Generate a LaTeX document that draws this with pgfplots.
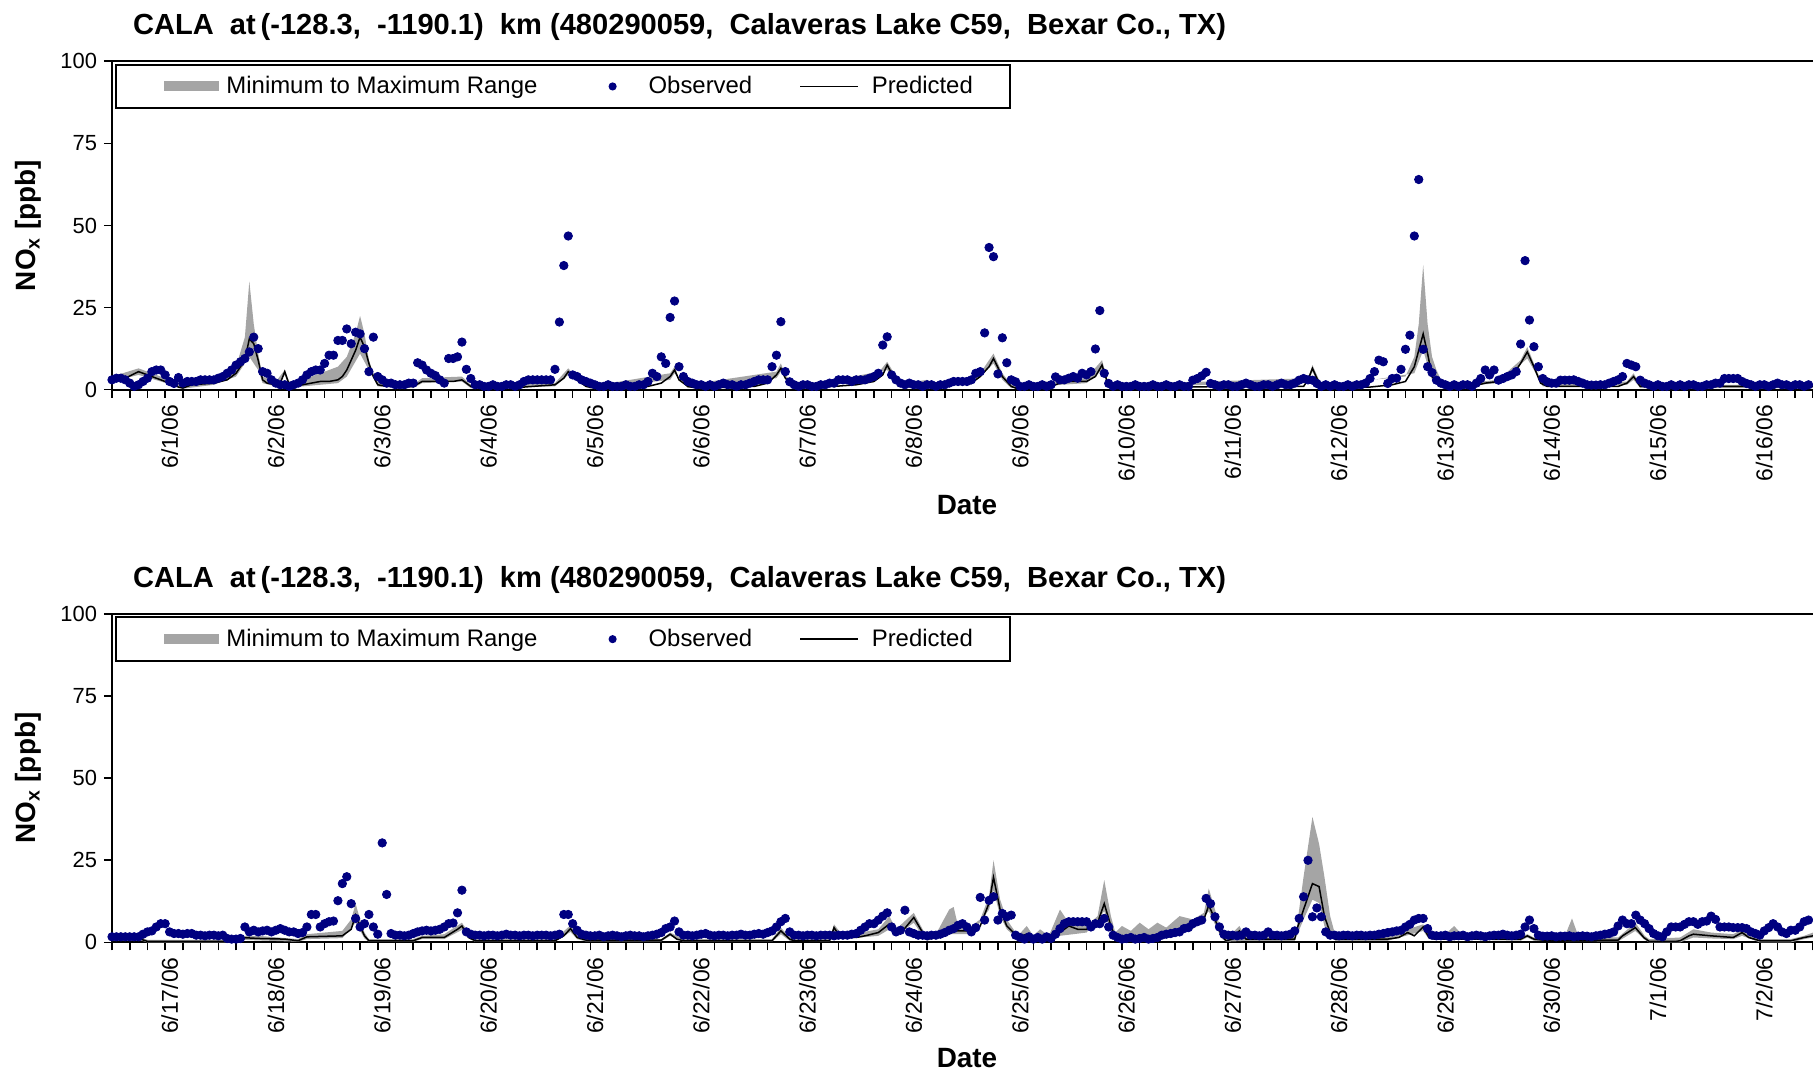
\documentclass[border=0pt]{standalone}
\usepackage{pgfplots}
\pgfplotsset{compat=1.18}
\usepgfplotslibrary{fillbetween}
\usepackage{fontspec}
\setmainfont{Liberation Sans}

\definecolor{navyobs}{RGB}{0,0,128}
\definecolor{bandgray}{RGB}{165,165,165}

\pgfplotsset{
  nox/.style={
    scale only axis, width=860bp, height=164.2bp,
    xmin=-13, xmax=375.3, ymin=0, ymax=100,
    clip=false,
    /pgf/number format/assume math mode=true,
    ytick={0,25,50,75,100},
    xtick={0,24,...,360},
    minor xtick={-13,-9,...,371},
    every major x tick/.append style={draw=none},
    tick align=outside, major tick length=4bp, minor tick length=4bp,
    xtick pos=left, ytick pos=left,
    axis line style={line width=1.1bp},
    every tick/.style={black, line width=0.8bp},
    yticklabel style={font=\fontsize{11}{12}\selectfont},
    xticklabel style={font=\fontsize{11.5}{12}\selectfont, rotate=90, anchor=east},
    title style={font=\bfseries\fontsize{14.6}{16}\selectfont, at={(axis description cs:0,1)}, anchor=west, xshift=7bp, yshift=11bp},
    title={CALA\ \ at\,(-128.3,\ \ -1190.1)\ \ km (480290059,\ \ Calaveras Lake C59,\ \ Bexar Co., TX)},
    ylabel={NO\textsubscript{x} [ppb]},
    ylabel style={font=\bfseries\fontsize{14}{16}\selectfont, at={(axis description cs:-0.0488,0.5)}, anchor=center},
    xlabel={Date},
    xlabel style={font=\bfseries\fontsize{14}{16}\selectfont, at={(axis description cs:0.5,0)}, anchor=center, xshift=-2.5bp, yshift=-57.7bp},
    legend columns=3,
    legend style={at={(axis description cs:0,1)}, anchor=north west, xshift=1.25bp, yshift=-1.2bp,
      draw=black, line width=1bp, inner xsep=15bp, inner ysep=2.8bp,
      nodes={inner xsep=3.5bp, inner ysep=3bp, font=\fontsize{12}{13}\selectfont},
      /tikz/column 2/.style={column sep=23.6bp},
      /tikz/column 4/.style={column sep=20bp}},
  },
  bandleg/.style={legend image code/.code={\path[draw opacity=0, fill opacity=0] (0bp,0bp) -- (8.5bp,0bp); \fill[bandgray, draw opacity=0] (8.5bp,-2.5bp) rectangle (36bp,2.5bp);}},
  obsleg/.style={legend image code/.code={\path[draw opacity=0, fill opacity=0] (0bp,0bp) -- (24bp,0bp); \fill[navyobs] (10bp,0bp) circle (1.5bp);}},
  predleg/.style={legend image code/.code={\path[draw opacity=0] (0bp,0bp) -- (32bp,0bp); \draw[black, line width=0.8bp] (0bp,0bp) -- (29bp,0bp);}},
  obsplot/.style={only marks, mark=*, mark size=2.1bp, navyobs, mark options={draw=navyobs, fill=navyobs}},
  predplot/.style={black, line width=0.75bp},
}

\begin{document}
\begin{tikzpicture}

% ---------------- 6/1 - 6/16 ----------------
\begin{axis}[nox, at={(0,276.35bp)}, anchor=south west,
  xticklabels={6/1/06,6/2/06,6/3/06,6/4/06,6/5/06,6/6/06,6/7/06,6/8/06,6/9/06,6/10/06,6/11/06,6/12/06,6/13/06,6/14/06,6/15/06,6/16/06}]
\addplot[name path=hiA, draw=none, forget plot] coordinates {
(-13,4)(-7,6.5)(-2,4)(3,1.5)(10,3)(15,7)(17,16)(18,33)(19,20)(20,11)(21,4)(24,2.5)(26,6)(27,2.5)(30,3)(34,5)(38,7)(40,10)(42,17)(43,22.5)(44,17)(45,9)(46,5)(47,2.5)(55,1.5)(57,3.5)(66,4)(68,1.5)(87,2)(90,6.5)(92,3.5)(95,1)(113,5)(114,7)(115,3.5)(117,1.5)(137,5.5)(138,8)(139,4.5)(141,1.5)(159,3.5)(162,8.5)(164,4)(166,2)(171,3)(173,1.5)(175,3)(177,2.5)(183,5)(186,11)(188,5)(190,1.5)(207,3.5)(210.5,9)(212,1.5)(257,3.5)(258,7.5)(260,1.5)(279,4)(281,10)(282,20)(283,38)(284,20)(285,10)(286,6)(287,3)(289,1.5)(300,3)(305,9)(306.5,13)(308,8)(309.5,3)(311,1.5)(329,2.5)(330.5,5)(332,1.5)(371,1.5)};
\addplot[name path=loA, draw=none, forget plot] coordinates {
(-13,2.5)(-7,4.5)(-2,2.5)(3,0.3)(10,1.5)(15,4)(18,10)(20,6)(21,2)(24,1)(26,4.5)(27,1)(30,1)(34,1.5)(38,2)(40,4)(43,11)(45,6)(47,1)(55,0.5)(57,2)(66,2.5)(68,0.5)(87,1)(90,4.5)(92,2.5)(95,0.3)(113,3)(114,5)(117,0.5)(137,3.5)(138,5.5)(141,0.5)(162,6)(164,2)(166,0.5)(176,1.5)(181,1.5)(186,8)(188,3)(190,0.5)(207,2)(210.5,6)(212,0.5)(257,2.5)(258,5.5)(260,0.5)(281,5)(283,12)(285,3)(287,0.5)(300,2)(306.5,9.5)(308,6)(310,1)(329,1.5)(330.5,3)(332,0.5)(371,0.5)};
\addplot[bandgray, bandleg] fill between[of=hiA and loA];
\addplot[obsplot, obsleg] coordinates {
(-13,3)(-12,3.5)(-11,3.5)(-10,3)(-9,2)(-8,1)(-7,1.5)(-6,2.5)(-5,3.5)(-4,5.5)(-3,6)(-2,6)
(-1,4.5)(0,2.5)(1,1.9)(2,3.7)(3,2)(4,2.5)(5,2.5)(6,2.5)(7,3)(8,3)(9,3)(10,3)
(11,3.5)(12,4)(13,5)(14,6)(15,7.5)(16,8.5)(17,9.5)(18,11.5)(19,16)(20,12.5)(21,5.5)(22,5)
(23,3)(24,2)(25,1.5)(26,1.5)(27,1)(28,1.5)(29,2)(30,3)(31,4.5)(32,5.5)(33,6)(34,6)
(35,8)(36,10.5)(37,10.5)(38,15)(39,15)(40,18.5)(41,14)(42,17.5)(43,17)(44,12.5)(45,5.5)(46,16)
(47,4)(48,3)(49,2)(50,2)(51,1.5)(52,1.5)(53,1.5)(54,2)(55,2)(56,8.2)(57,7.5)(58,6)
(59,5)(60,4.3)(61,3)(62,2)(63,9.5)(64,9.5)(65,10)(66,14.5)(67,6.2)(68,3.4)(69,1.5)(70,1.5)
(71,1)(72,1)(73,1.5)(74,1)(75,1)(76,1.5)(77,1.5)(78,1)(79,1.5)(80,2.5)(81,3)(82,3)
(83,3)(84,3)(85,3)(86,3)(87,6.2)(88,20.6)(89,37.8)(90,46.8)(91,4.5)(92,4)(93,3)(94,2.5)
(95,2)(96,1.5)(97,1)(98,1)(99,1.5)(100,1)(101,1)(102,1)(103,1.5)(104,1)(105,1)(106,1.5)
(107,1.5)(108,2.5)(109,5)(110,4)(111,10)(112,8)(113,22)(114,27)(115,7)(116,4)(117,2.5)(118,2)
(119,1.5)(120,1.5)(121,1)(122,1.5)(123,1)(124,1.5)(125,2)(126,1.5)(127,1.5)(128,1)(129,1.5)(130,1.5)
(131,2)(132,2.5)(133,3)(134,3)(135,3)(136,7)(137,10.5)(138,20.7)(139,5.5)(140,2.4)(141,1.5)(142,1)
(143,1.5)(144,1.5)(145,1)(146,1)(147,1.5)(148,1.5)(149,2)(150,2)(151,3)(152,3)(153,3)(154,2.5)
(155,3)(156,3)(157,3)(158,3.5)(159,4)(160,5)(161,13.6)(162,16.1)(163,4.5)(164,3)(165,2)(166,1.5)
(167,2)(168,1.5)(169,1.5)(170,1)(171,1.5)(172,1.5)(173,1)(174,1.5)(175,1.5)(176,2)(177,2.5)(178,2.5)
(179,2.5)(180,2.5)(181,3)(182,5)(183,5.5)(184,17.3)(185,43.3)(186,40.5)(187,4.8)(188,15.8)(189,8.2)(190,3)
(191,2.4)(192,1)(193,1)(194,1.5)(195,1)(196,1)(197,1.5)(198,1)(199,1.5)(200,3.9)(201,3)(202,3)
(203,3.5)(204,4)(205,3.5)(206,5)(207,4.5)(208,5.5)(209,12.4)(210,24.1)(211,5)(212,1.9)(213,1)(214,1.5)
(215,1)(216,1)(217,1)(218,1.5)(219,1)(220,1)(221,1)(222,1.5)(223,1)(224,1)(225,1.5)(226,1)
(227,1)(228,1.5)(229,1)(230,1)(231,2.9)(232,3.4)(233,4.2)(234,5.3)(235,1.9)(236,1.5)(237,1)(238,1.5)
(239,1.5)(240,1)(241,1)(242,1.5)(243,2)(244,1.5)(245,1)(246,1)(247,1.5)(248,1.5)(249,1)(250,1.5)
(251,2)(252,1.5)(253,1.5)(254,2)(255,2.9)(256,3.4)(257,3)(258,2.9)(259,1.9)(260,1)(261,1.5)(262,1)
(263,1.5)(264,1)(265,1)(266,1.5)(267,1)(268,1.5)(269,1.5)(270,2)(271,3.4)(272,5.5)(273,9)(274,8.5)
(275,1.9)(276,3.4)(277,3.5)(278,6.2)(279,12.3)(280,16.6)(281,46.8)(282,64)(283,12.3)(284,7)(285,5.2)(286,2.9)
(287,2)(288,1.5)(289,1)(290,1.5)(291,1)(292,1.5)(293,1.5)(294,1)(295,2)(296,3.4)(297,6)(298,4.5)
(299,6)(300,2.9)(301,3.4)(302,4)(303,4.5)(304,5.5)(305,13.9)(306,39.3)(307,21.2)(308,13.1)(309,7)(310,3.4)
(311,2.4)(312,2)(313,2)(314,2.9)(315,2.9)(316,2.9)(317,3)(318,2.5)(319,2)(320,1.5)(321,1.4)(322,1.4)
(323,1.5)(324,1.5)(325,2)(326,2.5)(327,3)(328,4)(329,8)(330,7.5)(331,7)(332,2.9)(333,2)(334,1.5)
(335,1)(336,1.5)(337,1)(338,1)(339,1.5)(340,1)(341,1.5)(342,1)(343,1.5)(344,1.5)(345,1)(346,1)
(347,1.5)(348,1.5)(349,2)(350,2)(351,3.4)(352,3.4)(353,3.4)(354,3.4)(355,2.5)(356,1.9)(357,1.5)(358,1)
(359,1.5)(360,1.5)(361,1)(362,1.5)(363,2)(364,1.5)(365,1.5)(366,1)(367,1.5)(368,1.5)(369,1)(370,1.5)};
\addplot[predplot, predleg] coordinates {
(-13,3)(-10,3.5)(-7,5.5)(-5,4.5)(-2,3)(0,2)(2,0.8)(3,0.5)(5,1.5)(10,2)(13,3)(15,5)(17,9)(18,15.5)(19,14)(20,9)(21,3)(22,2)(24,1.5)(25,2)(26,5.5)(27,1.5)(28,1)(30,1.5)(32,2)(34,2.5)(36,2.5)(38,3)(39,4)(40,6)(41,9)(42,12)(43,16)(44,13)(45,8)(46,4)(47,1.5)(49,1)(55,1)(57,2.5)(64,2.5)(66,3)(68,1)(70,0.5)(80,0.8)(87,1.5)(89,3.5)(90,5.5)(92,3)(94,1)(96,0.5)(108,1)(111,2)(113,4)(114,6)(115,3)(117,1)(119,0.5)(132,1)(135,2)(137,4.5)(138,6.5)(139,3.5)(141,1)(150,1)(155,1.5)(159,2.5)(161,4.5)(162,7.5)(163,5)(165,2)(167,1)(172,1)(173.5,2)(175,2.5)(176,2)(181,2)(183,4)(185,7)(186,9.5)(188,4)(190,1)(191,0.5)(198,0.5)(200,1.5)(202,2.5)(207,2.5)(209,4)(210.5,7.5)(212,1)(214,0.8)(256,1)(257,3)(258,6.5)(259.5,2)(261,0.5)(271,0.8)(276,1.5)(279,2.5)(281,7)(282,12)(283,17)(284,11)(285,4)(287,1)(289,0.5)(294,1)(297,2)(300,2.5)(303,4)(305,8)(306.5,11.5)(308,7)(309.5,2)(311,1)(327,1)(329,2)(330.5,4)(332,1)(371,1)};
\legend{Minimum to Maximum Range, Observed, Predicted}
\end{axis}

% ---------------- 6/17 - 7/2 ----------------
\begin{axis}[nox, at={(0,0)}, anchor=south west,
  xticklabels={6/17/06,6/18/06,6/19/06,6/20/06,6/21/06,6/22/06,6/23/06,6/24/06,6/25/06,6/26/06,6/27/06,6/28/06,6/29/06,6/30/06,7/1/06,7/2/06}]
\addplot[name path=hiB, draw=none, forget plot] coordinates {
(-13,1.7)(-7,1.7)(-5,0.8)(15,0.8)(16,2)(20,2)(29,1)(31,2.5)(39,3.5)(41,7)(42,11.8)(43,7)(44,3)(45,1)(55,1)(57,2)(62,2.5)(66,6)(68,2)(69,1)(87,1)(90.5,5.2)(92,2)(94,1)(111,1)(113,3)(116,1)(136,1)(138,4.5)(140,1.5)(149,1)(150,5.5)(152,2)(160,4)(162.5,8)(164,4)(168,9)(170,4)(171,1.5)(173,2.5)(176,10)(177,10.8)(178,5)(181,5)(183,7)(185,14)(186,25)(187.5,13)(189,7)(190.5,4)(191.5,2)(193.5,5)(195,2)(196.5,4)(198.5,2)(201,10)(203,6)(207,5)(209.5,8)(211,19)(212.5,8)(213.5,3)(215,5)(217,3.5)(219,6)(221,4)(223,6)(225,4.5)(228,8)(231,7)(233.5,9)(234.6,16.4)(236,10)(237.5,3)(238.5,1)(241.5,5)(243,1.5)(254,1.5)(254.5,5)(256,20)(258,38.2)(259.5,30)(260.7,20)(262,8)(263.2,2)(275,2)(279.5,4)(283,5.5)(284.3,2)(288,2.5)(290,5)(292,2)(305,1.5)(306.5,2.5)(308,1.5)(315,2)(316.6,7.3)(318,2)(327,1.5)(330.9,6)(333,2)(334,1)(341,1.5)(344,4)(348,3)(353,2.5)(355,4)(357,2)(359,1)(366,1)(369,2)(371,3)};
\addplot[name path=loB, draw=none, forget plot] coordinates {
(-13,0.8)(-7,0.8)(-5,0)(15,0)(16,0.8)(29,0.2)(31,1)(39,1.3)(42,6)(44,1.2)(45,0.2)(55,0.2)(57,1)(62,1)(66,3.8)(68,0.8)(69,0.2)(87,0.2)(90.5,3.2)(92,1)(94,0.3)(111,0.3)(113,2)(116,0.2)(136,0.2)(138,2.5)(140,0.5)(149,0.2)(150,3.5)(152,1)(160,2)(162.5,4)(164,2)(168,6)(170,2)(171,0.5)(176,2.5)(181,2.5)(185,10)(186,16)(187.5,8)(189,4)(191.5,1)(198.5,0.5)(201,2)(207,3)(211,9.5)(212.5,3.5)(213.5,1)(224,1.2)(231,4)(234.6,9.5)(236,5.5)(237.5,1.2)(238.5,0.2)(243,0.5)(254,0.5)(256,7)(258,13)(259.5,12)(260.7,5)(262,2)(263.2,0.5)(275,0.5)(283,3.5)(284.3,1)(305,0.5)(306.5,1.5)(308,0.5)(327,0.3)(330.9,3.5)(332.8,1)(334,0)(341,0)(344,1.5)(348,1.2)(353,1)(355,2)(359,0)(366,0)(369,1)(371,1.5)};
\addplot[bandgray, bandleg] fill between[of=hiB and loB];
\addplot[obsplot, obsleg] coordinates {
(-13,1.7)(-12,1.7)(-11,1.7)(-10,1.7)(-9,1.7)(-8,1.7)(-7,1.7)(-6,2.5)(-5,3.2)(-4,3.5)(-3,4.7)(-2,5.7)
(-1,5.7)(0,3.2)(1,2.7)(2,2.7)(3,2.5)(4,2.7)(5,2.7)(6,2.2)(7,2.2)(8,2)(9,2.2)(10,2.2)
(11,2)(12,2.2)(13,1.2)(14,1)(15,1)(16,1.2)(17,4.7)(18,3.2)(19,3.7)(20,3.2)(21,3.5)(22,3.7)
(23,3.2)(24,3.7)(25,4.2)(26,3.7)(27,3.2)(28,3.2)(29,2.7)(30,3)(31,4.7)(32,8.5)(33,8.5)(34,4.7)
(35,5.7)(36,6.3)(37,6.5)(38,12.7)(39,17.9)(40,20)(41,11.8)(42,7.3)(43,4.7)(44,5.7)(45,8.5)(46,4.7)
(47,2.5)(48,30.3)(49,14.6)(50,2.7)(51,2.2)(52,2.2)(53,2)(54,2.2)(55,2.7)(56,3.2)(57,3.5)(58,3.7)
(59,3.5)(60,3.7)(61,4)(62,4.7)(63,5.7)(64,5.9)(65,9)(66,15.9)(67,3.2)(68,2.5)(69,2.2)(70,2.2)
(71,2)(72,2.2)(73,2.2)(74,2)(75,2.2)(76,2.5)(77,2.2)(78,2.2)(79,2)(80,2.2)(81,2.2)(82,2)
(83,2.2)(84,2.2)(85,2.2)(86,2)(87,2.2)(88,2.5)(89,8.5)(90,8.5)(91,5.7)(92,3.7)(93,2.5)(94,2.2)
(95,2)(96,2)(97,2.2)(98,1.7)(99,2)(100,2.2)(101,2)(102,1.7)(103,2)(104,2.2)(105,2)(106,2)
(107,1.7)(108,2)(109,2.2)(110,2.5)(111,3)(112,4.2)(113,4.7)(114,6.5)(115,3.2)(116,2.2)(117,2.2)(118,2)
(119,2.2)(120,2.5)(121,2.7)(122,2.2)(123,2)(124,2.2)(125,2.2)(126,2)(127,2.2)(128,2.2)(129,2.5)(130,2.2)
(131,2.2)(132,2.5)(133,2.7)(134,2.5)(135,3)(136,3.5)(137,4.7)(138,6.3)(139,7.3)(140,3.2)(141,2.2)(142,2.2)
(143,2)(144,2.2)(145,2.2)(146,2)(147,2.2)(148,2.2)(149,2.2)(150,2)(151,2.2)(152,2.2)(153,2.2)(154,2.5)
(155,2.7)(156,3.7)(157,4.7)(158,5.7)(159,5.7)(160,6.8)(161,8)(162,9)(163,4.7)(164,3.2)(165,3.7)(166,9.8)
(167,3.2)(168,2.7)(169,2.2)(170,2.2)(171,2)(172,2.2)(173,2.2)(174,2.5)(175,3)(176,3.7)(177,4.2)(178,5.2)
(179,5.7)(180,4.7)(181,3.2)(182,4.5)(183,13.7)(184,6.8)(185,12.8)(186,13.9)(187,6.8)(188,8.8)(189,7.8)(190,8.3)
(191,2.2)(192,1.5)(193,1)(194,1.7)(195,1)(196,1.5)(197,1)(198,1.7)(199,1.2)(200,2.5)(201,4.2)(202,5.7)
(203,6.3)(204,6.3)(205,6.3)(206,6.3)(207,6.3)(208,4.7)(209,5.7)(210,5.7)(211,7.3)(212,4.7)(213,2.2)(214,1.5)
(215,1)(216,1.2)(217,1.5)(218,1)(219,1.2)(220,1.5)(221,1)(222,1.2)(223,1.5)(224,2.2)(225,2.5)(226,2.7)
(227,3)(228,3.2)(229,4.2)(230,4.5)(231,5.7)(232,6.3)(233,6.8)(234,13.4)(235,11.8)(236,7.8)(237,4.7)(238,2.5)
(239,2.2)(240,2.2)(241,2)(242,2.2)(243,3.2)(244,2.2)(245,2.2)(246,2)(247,2.2)(248,3.2)(249,2.2)(250,2.2)
(251,2)(252,2.2)(253,2.5)(254,3.5)(255,7.3)(256,13.9)(257,25)(258,7.8)(259,10.5)(260,7.8)(261,3.2)(262,2.2)
(263,2.2)(264,2)(265,2.2)(266,2.2)(267,2)(268,2.2)(269,2.2)(270,2)(271,2.2)(272,2.2)(273,2.5)(274,2.7)
(275,3)(276,3.2)(277,3.5)(278,3.7)(279,4.7)(280,5.5)(281,6.8)(282,7.3)(283,7.3)(284,4.2)(285,2.2)(286,2)
(287,2)(288,2.2)(289,1.7)(290,2)(291,2)(292,2.2)(293,1.7)(294,2)(295,2.2)(296,2)(297,1.7)(298,2)
(299,2.2)(300,2.2)(301,2.5)(302,2.2)(303,2)(304,2.2)(305,2.5)(306,4.7)(307,6.8)(308,4.2)(309,2.2)(310,1.9)
(311,1.9)(312,2)(313,1.7)(314,1.9)(315,1.9)(316,2)(317,1.7)(318,1.9)(319,2)(320,1.9)(321,1.7)(322,2)
(323,2.2)(324,2.5)(325,2.7)(326,3.2)(327,5)(328,6.8)(329,5.7)(330,5.7)(331,8.3)(332,6.8)(333,5.7)(334,4.2)
(335,2.7)(336,2)(337,1.7)(338,3.2)(339,4.7)(340,4.7)(341,4.7)(342,5.5)(343,6.3)(344,6.3)(345,5.5)(346,6.3)
(347,6.5)(348,8)(349,7)(350,4.7)(351,4.7)(352,4.7)(353,4.5)(354,4.5)(355,4.5)(356,4.2)(357,3.2)(358,2.7)
(359,2.2)(360,3.5)(361,4.5)(362,5.7)(363,4.7)(364,3.2)(365,2.7)(366,3.7)(367,3.7)(368,4.7)(369,6.3)(370,6.8)};
\addplot[predplot, predleg] coordinates {
(-13,1.2)(-7,1.2)(-5,0.3)(15,0.3)(16,1.5)(20,1.2)(26,1)(29,0.5)(31,1.7)(39,2)(41,4)(42,8.3)(43,5)(44,2)(45,0.5)(55,0.5)(57,1.5)(62,1.5)(65,4)(66,5)(67.5,1.5)(69,0.5)(87,0.5)(89,2)(90.5,4.2)(92,1.5)(94,0.7)(111,0.7)(113,2.5)(114.5,1)(116,0.5)(136,0.5)(138,3.5)(140,1)(141,0.5)(149,0.5)(150,4.5)(151.5,1.5)(155,1.5)(157,2)(160,3)(162.5,5.6)(164,3)(165.5,3.5)(168,7.6)(170,3)(171,1)(173,1.5)(175,4)(176,3.5)(181,3.5)(183,5)(185,12)(186,19.8)(187.5,10)(189,5)(190.5,3)(191.5,1.5)(193.5,2.5)(195,1)(196.5,2)(198.5,1)(201,3)(203,5)(205,4)(207,4)(209.5,6)(211,11.8)(212.5,5)(213.5,1.5)(218,2)(224,2)(226,3)(228,4)(231,5)(233.5,7)(234.6,11.3)(236,7)(237.5,2)(238.5,0.5)(240,1)(241.5,3.5)(243,1)(254,1)(254.5,4)(256,10)(258,17.9)(259.5,17)(260.7,8)(262,3)(263.2,1)(275,1)(277.5,1.5)(279.5,3)(281,2)(283,4.7)(284.3,1.5)(285.5,1)(305,1)(306.5,2)(308,1)(310,0.7)(327,0.7)(328,2)(330.9,4.5)(332.8,1.5)(334,0.3)(340,0.3)(341,0.5)(343,2)(344,2.5)(348,2)(353,1.5)(355,3)(356.5,1.5)(359,0.5)(366,0.5)(369,1.5)(371,2)};
\legend{Minimum to Maximum Range, Observed, Predicted}
\end{axis}

\pgfresetboundingbox
\path[use as bounding box] (-56bp,-64.85bp) rectangle (850.5bp,471.2bp);
\end{tikzpicture}
\end{document}
